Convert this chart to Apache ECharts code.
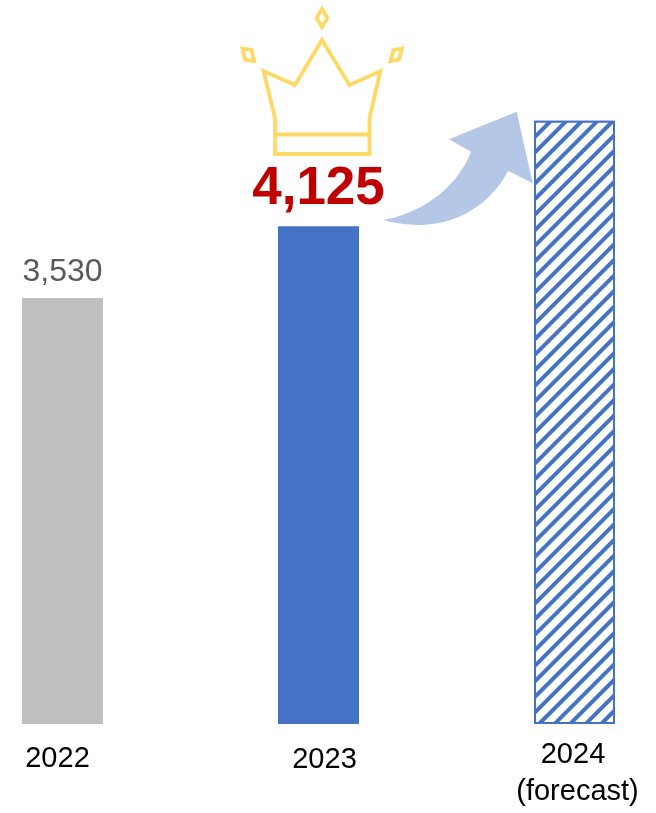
<!DOCTYPE html>
<html>
<head>
<meta charset="utf-8">
<style>html,body{margin:0;padding:0;background:#fff}#chart{width:656px;height:813px}</style>
<script src="https://cdn.jsdelivr.net/npm/echarts@6/dist/echarts.min.js"></script>
</head>
<body>
<div id="chart"></div>
<script>
const categories = ['2022', '2023', '2024\n(forecast)'];
const values = [3530, 4125, 5000];
const valueLabels = ['3,530', '4,125', ''];

const BLUE = '#4472C4';
const GOLD = '#FFD966';
const FONT = '"Liberation Sans", Arial, sans-serif';

// Small nudges for the individual year labels
const labelPadding = [[4, 10, 0, 0], [5, 0, 0, 12], [0, 0, 0, 0]];
const tickText = { color: '#000', fontFamily: FONT, fontSize: 29, lineHeight: 37 };

const crownStyle = { fill: 'none', stroke: GOLD, lineWidth: 3.8, lineJoin: 'miter' };
const poly = (points) => ({
  type: 'polygon',
  shape: { points },
  style: crownStyle,
  silent: true
});

// Cubic Bezier flattened into points for the curved arrow outline
function cubic(p0, p1, p2, p3, steps = 24) {
  const pts = [];
  for (let i = 0; i <= steps; i++) {
    const t = i / steps, u = 1 - t;
    pts.push([
      u * u * u * p0[0] + 3 * u * u * t * p1[0] + 3 * u * t * t * p2[0] + t * t * t * p3[0],
      u * u * u * p0[1] + 3 * u * u * t * p1[1] + 3 * u * t * t * p2[1] + t * t * t * p3[1]
    ]);
  }
  return pts;
}
const arrowOutline = [
  ...cubic([383.3, 220], [420, 213], [456, 190], [471, 151.7]),
  [449, 139.3], [516.7, 111.7], [532.7, 183.3],
  ...cubic([508.3, 171], [488, 208], [445, 237], [383.3, 220])
];

const chart = echarts.init(document.getElementById('chart'), null, { renderer: 'canvas' });
chart.setOption({
  animation: false,
  backgroundColor: '#fff',
  grid: { left: -65.5, top: 0, width: 768, height: 724, containLabel: false, outerBoundsMode: 'none' },
  xAxis: {
    type: 'category',
    data: categories.map((value, i) => ({ value, textStyle: { padding: labelPadding[i] } })),
    axisLine: { show: false },
    axisTick: { show: false },
    axisLabel: {
      ...tickText,
      margin: 12,
      interval: 0,
      // The forecast label has two lines, each set slightly off centre
      formatter: (value) => {
        const [year, note] = value.split('\n');
        return note ? `{year|${year}}\n{note|${note}}` : value;
      },
      rich: {
        year: { ...tickText, padding: [0, 3, 0, 0] },
        note: { ...tickText, padding: [0, 0, 0, 6] }
      }
    }
  },
  yAxis: { type: 'value', min: 0, max: 6000, show: false, splitLine: { show: false } },
  series: [{
    type: 'bar',
    barWidth: 81,
    data: [
      {
        value: values[0],
        itemStyle: { color: '#BFBFBF' },
        label: { show: true, position: 'top', distance: 10, formatter: valueLabels[0], color: '#595959', fontFamily: FONT, fontSize: 32 }
      },
      {
        value: values[1],
        itemStyle: { color: BLUE },
        label: { show: true, position: 'top', distance: 10, formatter: valueLabels[1], color: '#C00000', fontFamily: FONT, fontSize: 53, fontWeight: 'bold' }
      },
      {
        value: values[2],
        itemStyle: {
          color: '#fff',
          borderColor: BLUE,
          borderWidth: 2,
          decal: {
            symbol: 'rect',
            color: BLUE,
            backgroundColor: '#fff',
            dashArrayX: [1, 0],
            dashArrayY: [4, 7],
            rotation: -Math.PI / 4
          }
        }
      }
    ]
  }],
  graphic: [
    // Crown above the 2023 bar
    poly([[322, 40], [349.5, 85], [380.5, 71], [369.5, 118], [369.5, 154], [275, 154], [275, 118], [263.5, 71], [295, 85]]),
    { type: 'line', shape: { x1: 275, y1: 134.5, x2: 369.5, y2: 134.5 }, style: crownStyle, silent: true },
    poly([[322, 9], [327.5, 18], [322, 27], [316.5, 18]]),
    poly([[242.5, 48.5], [251.5, 50], [254, 61], [245, 59.5]]),
    poly([[402, 48.5], [393.5, 50], [390.5, 61], [399, 59.5]]),
    // Growth arrow leading to the forecast bar
    { type: 'polygon', silent: true, shape: { points: arrowOutline }, style: { fill: '#B4C7E7' } }
  ]
});
</script>
</body>
</html>
